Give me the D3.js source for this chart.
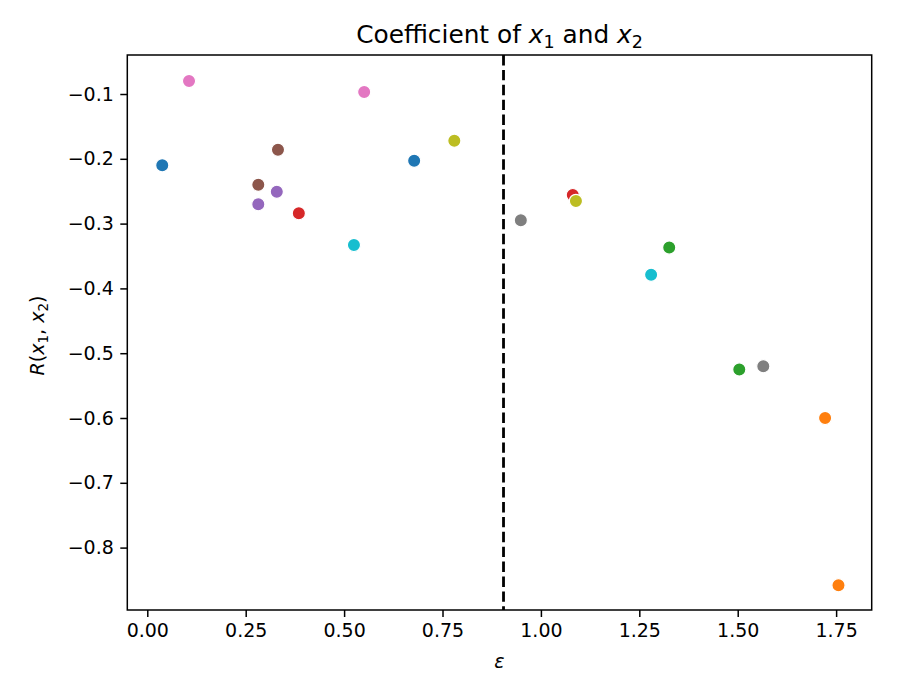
<!DOCTYPE html>
<html>
<head>
<meta charset="utf-8">
<script src="https://cdn.jsdelivr.net/npm/d3@7"></script>
<style>
  body { margin: 0; background: #fff; }
  text { font-family: "DejaVu Sans", sans-serif; }
</style>
</head>
<body>
<div id="chart"></div>
<script>
// ---- data ----
const epsilon = [0.038, 0.106, 0.551, 0.332, 0.282, 0.329, 0.282, 0.385, 0.525, 0.780,
                 0.678, 1.081, 1.089, 0.949, 1.326, 1.280, 1.504, 1.565, 1.722, 1.756];
const coef    = [-0.210, -0.080, -0.097, -0.186, -0.240, -0.251, -0.270, -0.284, -0.333, -0.172,
                 -0.203, -0.256, -0.265, -0.295, -0.337, -0.379, -0.525, -0.520, -0.600, -0.858];
const group   = [0, 6, 6, 5, 5, 4, 4, 3, 9, 8,
                 0, 3, 8, 7, 2, 9, 2, 7, 1, 1];
const palette = ["#1f77b4", "#ff7f0e", "#2ca02c", "#d62728", "#9467bd",
                 "#8c564b", "#e377c2", "#7f7f7f", "#bcbd22", "#17becf"];
const xTicks = [0.00, 0.25, 0.50, 0.75, 1.00, 1.25, 1.50, 1.75];
const yTicks = [-0.1, -0.2, -0.3, -0.4, -0.5, -0.6, -0.7, -0.8];
const threshold = 0.905;

const W = 903, H = 678;
const L = 127.3, R = 871.7, T = 55, B = 610;

const svg = d3.select("#chart").append("svg").attr("width", W).attr("height", H);

const x = d3.scaleLinear().domain([-0.0508, 1.8404]).range([L, R]);
const y = d3.scaleLinear().domain([-0.8963, -0.0398]).range([B, T]);

// dashed vertical line
svg.append("line")
  .attr("x1", x(threshold)).attr("x2", x(threshold))
  .attr("y1", T).attr("y2", B)
  .attr("stroke", "#000").attr("stroke-width", 2.8)
  .attr("stroke-dasharray", "10.4,4.5");

// points
const pts = epsilon.map((e, i) => ({e, c: coef[i], g: group[i]}));
svg.append("g").selectAll("circle").data(pts).join("circle")
  .attr("cx", d => x(d.e)).attr("cy", d => y(d.c))
  .attr("r", 6.6)
  .attr("fill", d => palette[d.g])
  .attr("stroke", "#fff").attr("stroke-width", 1.2);

// axes
const fs = 19;
const xAxis = svg.append("g").attr("transform", `translate(0,${B})`)
  .call(d3.axisBottom(x).tickValues(xTicks).tickFormat(d3.format(".2f")).tickSize(7).tickPadding(6.5));
const yAxis = svg.append("g").attr("transform", `translate(${L},0)`)
  .call(d3.axisLeft(y).tickValues(yTicks).tickFormat(d3.format(".1f")).tickSize(7).tickPadding(6.5));
[xAxis, yAxis].forEach(a => {
  a.select(".domain").remove();
  a.selectAll("line").attr("stroke", "#000").attr("stroke-width", 1.5);
  a.selectAll("text").attr("font-size", fs).attr("fill", "#000")
    .style("font-family", "'DejaVu Sans', sans-serif");
});

// frame
svg.append("rect").attr("x", L).attr("y", T).attr("width", R - L).attr("height", B - T)
  .attr("fill", "none").attr("stroke", "#000").attr("stroke-width", 1.5);

// title
const title = svg.append("text").attr("x", (L + R) / 2).attr("y", 43)
  .attr("text-anchor", "middle").attr("font-size", 24.8).attr("fill", "#000");
title.append("tspan").text("Coefficient of ");
title.append("tspan").attr("font-style", "italic").text("x");
title.append("tspan").attr("font-size", 17.5).attr("dy", 4.5).text("1");
title.append("tspan").attr("dy", -4.5).text(" and ");
title.append("tspan").attr("font-style", "italic").text("x");
title.append("tspan").attr("font-size", 17.5).attr("dy", 4.5).text("2");

// x label
svg.append("text").attr("x", (L + R) / 2).attr("y", 668)
  .attr("text-anchor", "middle").attr("font-size", fs).attr("font-style", "italic")
  .attr("fill", "#000").text("ε");

// y label
const yl = svg.append("text")
  .attr("transform", `translate(44,${(T + B) / 2 + 3}) rotate(-90)`)
  .attr("text-anchor", "middle").attr("font-size", fs).attr("fill", "#000");
yl.append("tspan").attr("font-style", "italic").text("R");
yl.append("tspan").text("(");
yl.append("tspan").attr("font-style", "italic").text("x");
yl.append("tspan").attr("font-size", 13.5).attr("dy", 3.5).text("1");
yl.append("tspan").attr("dy", -3.5).text(", ");
yl.append("tspan").attr("font-style", "italic").text("x");
yl.append("tspan").attr("font-size", 13.5).attr("dy", 3.5).text("2");
yl.append("tspan").attr("dy", -3.5).text(")");
</script>
</body>
</html>
